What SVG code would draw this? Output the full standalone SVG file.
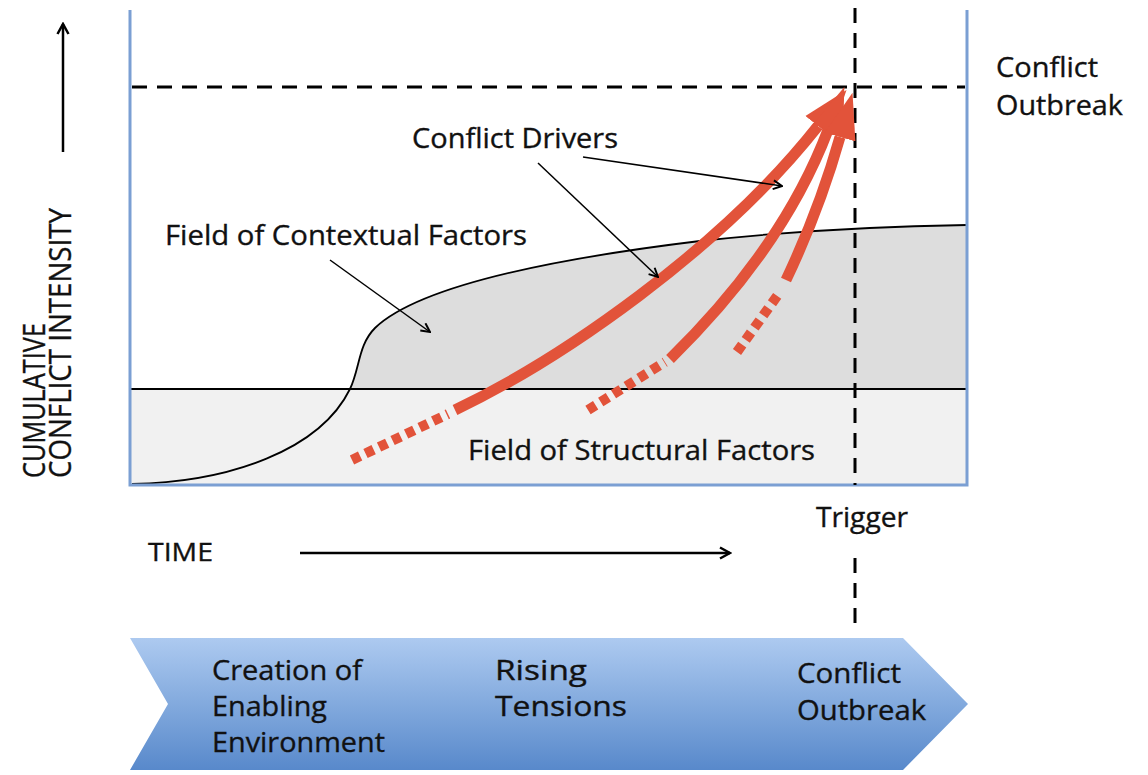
<svg xmlns="http://www.w3.org/2000/svg" width="1148" height="775" viewBox="0 0 1148 775">
  <defs>
    <style>
      .lbl { font-family: "Open Sans", "Liberation Sans", sans-serif; fill: #111111; stroke: #111111; stroke-width: 0.35; }
      .frame { stroke: #7b9fd3; stroke-width: 3; fill: none; }
      .dash { stroke: #000000; stroke-width: 3; stroke-dasharray: 15 10; fill: none; }
      .ptr { stroke: #000000; stroke-width: 1.5; fill: none; marker-end: url(#ptrHead); }
      .axis { stroke: #000000; stroke-width: 2.5; fill: none; marker-end: url(#axisHead); }
      .driver { stroke: #e2533a; stroke-width: 11; fill: none; stroke-linecap: butt; }
      .driverHead { marker-end: url(#redHead); }
      .dotted { stroke: #e2533a; stroke-width: 10; fill: none; stroke-dasharray: 9 6; }
    </style>
    <marker id="ptrHead" viewBox="0 0 10 10" refX="9" refY="5" markerWidth="11" markerHeight="11" markerUnits="userSpaceOnUse" orient="auto">
      <path d="M1,1 L9,5 L1,9" fill="none" stroke="#000" stroke-width="1.8"/>
    </marker>
    <marker id="axisHead" viewBox="0 0 14 14" refX="12" refY="7" markerWidth="14" markerHeight="14" markerUnits="userSpaceOnUse" orient="auto">
      <path d="M2,1.5 L12,7 L2,12.5" fill="none" stroke="#000" stroke-width="2.5"/>
    </marker>
    <marker id="redHead" viewBox="0 0 46 34" refX="0" refY="17" markerWidth="46" markerHeight="34" markerUnits="userSpaceOnUse" orient="auto">
      <path d="M0,1 L46,17 L0,33 Z" fill="#e2533a"/>
    </marker>
    <linearGradient id="bandFill" x1="0" y1="0" x2="0" y2="1">
      <stop offset="0" stop-color="#adcaf0"/>
      <stop offset="1" stop-color="#5889cb"/>
    </linearGradient>
  </defs>

  <rect x="0" y="0" width="1148" height="775" fill="#ffffff"/>

  <!-- structural field: lower band of the plot -->
  <g id="structural-field">
    <rect x="130" y="389" width="837" height="96" fill="#f1f1f1"/>
  </g>

  <!-- contextual field: shaded area above the structural band -->
  <g id="contextual-field">
    <path d="M350,389 C360,368 358,345 375,328 C420,285 560,258 700,241 C800,230 900,226 967,225 L967,389 Z" fill="#dddddd"/>
    <path d="M132,484 C230,482 320,450 350,389 C360,368 358,345 375,328 C420,285 560,258 700,241 C800,230 900,226 967,225" fill="none" stroke="#000" stroke-width="1.8"/>
    <line x1="130" y1="389" x2="967" y2="389" stroke="#000" stroke-width="2"/>
  </g>

  <!-- plot frame -->
  <g id="frame">
    <path class="frame" d="M130,10 L130,485 L967,485 L967,10"/>
  </g>

  <!-- outbreak level and trigger moment -->
  <g id="thresholds">
    <line class="dash" x1="132" y1="87" x2="965" y2="87"/>
    <line class="dash" x1="855" y1="8" x2="855" y2="485"/>
    <line class="dash" x1="855" y1="558" x2="855" y2="630"/>
  </g>

  <g id="connectors">
    <!-- conflict driver arrows -->
    <line class="dotted" x1="352" y1="460" x2="448" y2="414"/>
    <path class="driver driverHead" d="M455,410 C560,360 720,250 818,126"/>
    <line class="dotted" x1="588" y1="410" x2="665" y2="362"/>
    <path class="driver driverHead" d="M670,359 C720,310 790,230 828,130"/>
    <line class="dotted" x1="737" y1="352" x2="780" y2="292"/>
    <path class="driver driverHead" d="M786,280 C805,240 825,190 840,137"/>

    <!-- label pointers -->
    <line class="ptr" x1="330" y1="260" x2="430" y2="332"/>
    <line class="ptr" x1="583" y1="157" x2="782" y2="186"/>
    <line class="ptr" x1="538" y1="163" x2="658" y2="277"/>

    <!-- axes -->
    <line class="axis" x1="63" y1="152" x2="63" y2="24"/>
    <line class="axis" x1="300" y1="553" x2="730" y2="553"/>
  </g>

  <!-- labels -->
  <g id="label-outbreak">
    <text class="lbl" x="996" y="77" font-size="27" textLength="102" lengthAdjust="spacingAndGlyphs">Conflict</text>
    <text class="lbl" x="996" y="115" font-size="27" textLength="127" lengthAdjust="spacingAndGlyphs">Outbreak</text>
  </g>
  <g id="label-drivers">
    <text class="lbl" x="412" y="148" font-size="27" textLength="206" lengthAdjust="spacingAndGlyphs">Conflict Drivers</text>
  </g>
  <g id="label-contextual">
    <text class="lbl" x="165" y="245" font-size="28" textLength="362" lengthAdjust="spacingAndGlyphs">Field of Contextual Factors</text>
  </g>
  <g id="label-structural">
    <text class="lbl" x="468" y="460" font-size="28" textLength="347" lengthAdjust="spacingAndGlyphs">Field of Structural Factors</text>
  </g>
  <g id="label-time">
    <text class="lbl" x="148" y="561" font-size="26" textLength="65" lengthAdjust="spacingAndGlyphs">TIME</text>
  </g>
  <g id="label-trigger">
    <text class="lbl" x="816" y="527" font-size="27" textLength="92" lengthAdjust="spacingAndGlyphs">Trigger</text>
  </g>
  <g id="label-intensity">
    <text class="lbl" transform="translate(45,478) rotate(-90)" font-size="31" textLength="155" lengthAdjust="spacingAndGlyphs">CUMULATIVE</text>
    <text class="lbl" transform="translate(71,478) rotate(-90)" font-size="31" textLength="270" lengthAdjust="spacingAndGlyphs">CONFLICT INTENSITY</text>
  </g>

  <!-- phase chevron -->
  <g id="phase-band">
    <path d="M130,638 L903,638 L968,704 L903,770 L130,770 L168,704 Z" fill="url(#bandFill)"/>
    <text class="lbl" x="212" y="680" font-size="28" textLength="150" lengthAdjust="spacingAndGlyphs">Creation of</text>
    <text class="lbl" x="212" y="716" font-size="28" textLength="115" lengthAdjust="spacingAndGlyphs">Enabling</text>
    <text class="lbl" x="212" y="752" font-size="28" textLength="173" lengthAdjust="spacingAndGlyphs">Environment</text>
    <text class="lbl" x="495" y="680" font-size="28" textLength="92" lengthAdjust="spacingAndGlyphs">Rising</text>
    <text class="lbl" x="495" y="716" font-size="28" textLength="132" lengthAdjust="spacingAndGlyphs">Tensions</text>
    <text class="lbl" x="797" y="683" font-size="28" textLength="104" lengthAdjust="spacingAndGlyphs">Conflict</text>
    <text class="lbl" x="797" y="720" font-size="28" textLength="129" lengthAdjust="spacingAndGlyphs">Outbreak</text>
  </g>
</svg>
